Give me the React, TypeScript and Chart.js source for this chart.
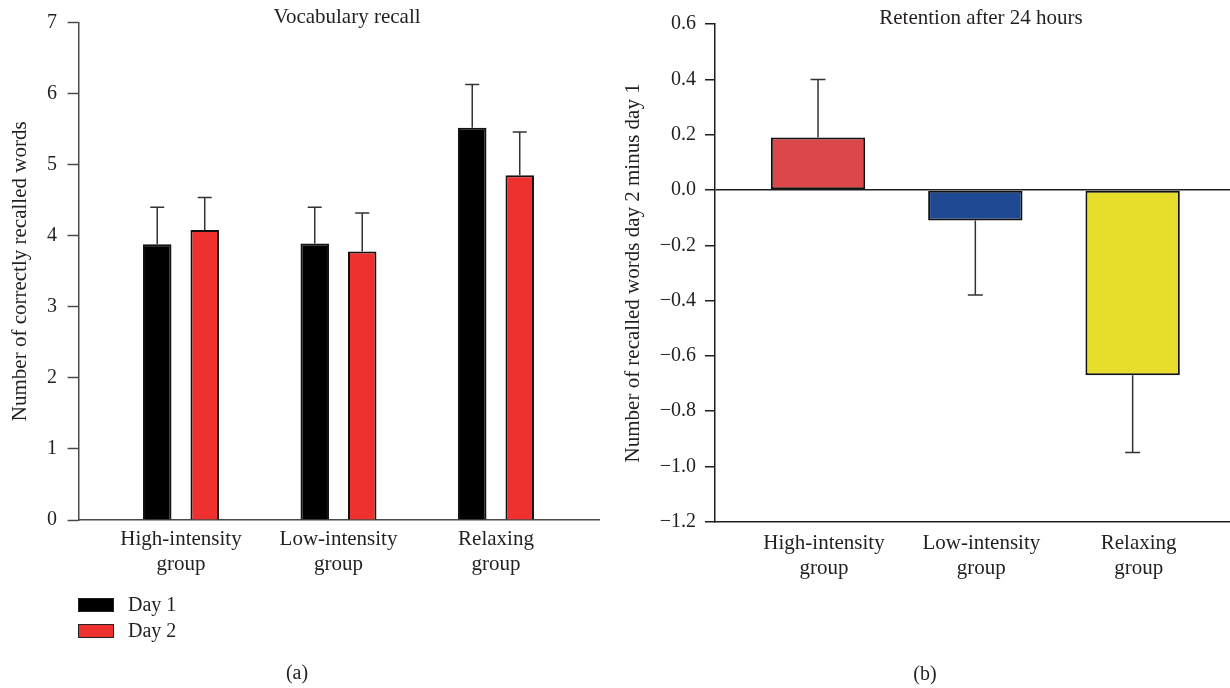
import React, { useEffect, useRef } from 'react';
import { Chart, registerables } from 'chart.js';

Chart.register(...registerables);

// ---------- data ----------
const groupLabels: string[][] = [
  ['High-intensity', 'group'],
  ['Low-intensity', 'group'],
  ['Relaxing', 'group'],
];
const groupPositions = [1, 2, 3];

const day1Values = [3.88, 3.89, 5.52];
const day1Errors = [0.52, 0.51, 0.61];
const day2Values = [4.08, 3.78, 4.85];
const day2Errors = [0.46, 0.54, 0.61];

const retentionValues = [0.19, -0.11, -0.67];
const retentionErrors = [0.21, 0.27, 0.28];

const recallTicks = [0, 1, 2, 3, 4, 5, 6, 7];
const retentionTicks = [-1.2, -1.0, -0.8, -0.6, -0.4, -0.2, 0, 0.2, 0.4, 0.6];

const seriesNames = ['Day 1', 'Day 2'];

// ---------- styles ----------
const FONT = '"Liberation Serif", "Times New Roman", serif';
const TEXT = '#231f20';
const AXIS_L = '#4a4a4a';
const AXIS_R = '#1e1e1e';
const BLACK = '#000000';
const RED_L = '#ee312f';
const RETENTION_COLORS = ['#dc484a', '#1f4a93', '#e6de2a'];

const errorBarPlugin = {
  id: 'errorBars',
  afterDatasetsDraw(chart: any, _args: any, opts: any) {
    const ctx = chart.ctx;
    const yScale = chart.scales.y;
    chart.data.datasets.forEach((ds: any, di: number) => {
      const meta = chart.getDatasetMeta(di);
      const errs: number[] = ds.errors || [];
      meta.data.forEach((bar: any, i: number) => {
        const raw = ds.data[i];
        const v = typeof raw === 'number' ? raw : raw.y;
        const e = errs[i];
        if (e == null) return;
        const end = v >= 0 ? v + e : v - e;
        const x = bar.x;
        const y0 = yScale.getPixelForValue(v);
        const y1 = yScale.getPixelForValue(end);
        ctx.save();
        ctx.strokeStyle = opts.color;
        ctx.lineWidth = opts.width;
        ctx.beginPath();
        ctx.moveTo(x, y0);
        ctx.lineTo(x, y1);
        ctx.moveTo(x - opts.cap / 2, y1);
        ctx.lineTo(x + opts.cap / 2, y1);
        ctx.stroke();
        ctx.restore();
      });
    });
  },
};

const panelTextPlugin = {
  id: 'panelText',
  afterDraw(chart: any, _args: any, opts: any) {
    const ctx = chart.ctx;
    ctx.save();
    ctx.fillStyle = TEXT;
    ctx.textAlign = 'center';
    ctx.textBaseline = 'middle';
    ctx.font = `21px ${FONT}`;
    ctx.fillText(opts.title, opts.titleX, opts.titleY);
    ctx.font = `20px ${FONT}`;
    ctx.fillText(opts.tag, opts.tagX, opts.tagY);
    if (opts.legend) {
      const L = opts.legend;
      chart.data.datasets.forEach((ds: any, i: number) => {
        const top = L.y + i * L.rowGap;
        ctx.fillStyle = ds.backgroundColor;
        ctx.fillRect(L.x, top, L.boxW, L.boxH);
        ctx.strokeStyle = '#222';
        ctx.lineWidth = 1;
        ctx.strokeRect(L.x + 0.5, top + 0.5, L.boxW - 1, L.boxH - 1);
        ctx.fillStyle = TEXT;
        ctx.textAlign = 'left';
        ctx.font = `20px ${FONT}`;
        ctx.fillText(ds.label, L.textX, top + L.boxH / 2 + 0.5);
      });
    }
    ctx.restore();
  },
};

const groupTickCallback = (v: any) => {
  const i = groupPositions.indexOf(Number(v));
  return i >= 0 ? groupLabels[i] : '';
};

function makeRecallChart(canvas: HTMLCanvasElement) {
  return new Chart(canvas, {
    type: 'bar',
    data: {
      datasets: [
        {
          label: seriesNames[0],
          data: groupPositions.map((x, i) => ({ x, y: day1Values[i] })),
          backgroundColor: BLACK,
          borderColor: '#111',
          borderWidth: 2,
          borderSkipped: 'start',
          errors: day1Errors,
        } as any,
        {
          label: seriesNames[1],
          data: groupPositions.map((x, i) => ({ x, y: day2Values[i] })),
          backgroundColor: RED_L,
          borderColor: '#111',
          borderWidth: 2,
          borderSkipped: 'start',
          errors: day2Errors,
        } as any,
      ],
    },
    options: {
      responsive: false,
      animation: false,
      categoryPercentage: 0.603,
      barPercentage: 0.6,
      layout: { padding: { top: 22.5, right: 16, bottom: 0, left: 0 } },
      plugins: {
        legend: { display: false },
        tooltip: { enabled: false },
        errorBars: { color: '#333', width: 1.5, cap: 14 },
        panelText: {
          title: 'Vocabulary recall',
          titleX: 347,
          titleY: 17,
          tag: '(a)',
          tagX: 297,
          tagY: 674,
          legend: { x: 78, y: 598, boxW: 36, boxH: 14, rowGap: 26, textX: 128 },
        },
      } as any,
      scales: {
        x: {
          type: 'linear',
          offset: false,
          min: 0.35,
          max: 3.654,
          afterBuildTicks: (s: any) => {
            s.ticks = groupPositions.map((v) => ({ value: v }));
          },
          afterFit: (s: any) => {
            s.height = 168;
          },
          grid: { display: false, drawTicks: false, offset: false },
          border: { display: true, color: AXIS_L, width: 1.5 },
          ticks: {
            callback: groupTickCallback,
            autoSkip: false,
            maxRotation: 0,
            padding: 6.4,
            color: TEXT,
            font: { family: FONT, size: 21, lineHeight: 1.2 },
          },
        },
        y: {
          min: 0,
          max: 7,
          afterBuildTicks: (s: any) => {
            s.ticks = recallTicks.map((v) => ({ value: v }));
          },
          afterFit: (s: any) => {
            s.width = 78.6;
          },
          grid: {
            drawOnChartArea: false,
            drawTicks: true,
            tickLength: 11,
            color: AXIS_L,
            tickColor: AXIS_L,
            tickWidth: 1.5,
          },
          border: { display: true, color: AXIS_L, width: 1.5 },
          ticks: {
            padding: 10.6,
            color: TEXT,
            font: { family: FONT, size: 20 },
          },
          title: {
            display: true,
            text: 'Number of correctly recalled words',
            color: TEXT,
            font: { family: FONT, size: 21, lineHeight: 1.2 },
            padding: { top: 7.4, bottom: 0 },
          },
        },
      },
    } as any,
    plugins: [errorBarPlugin, panelTextPlugin],
  });
}

const fmtRetention = (v: any) => {
  const n = Number(v);
  if (Math.abs(n) < 1e-9) return '0.0';
  return n.toFixed(1).replace('-', '\u2212');
};

function makeRetentionChart(canvas: HTMLCanvasElement) {
  return new Chart(canvas, {
    type: 'bar',
    data: {
      datasets: [
        {
          label: 'Retention',
          data: groupPositions.map((x, i) => ({ x, y: retentionValues[i] })),
          backgroundColor: RETENTION_COLORS,
          borderColor: '#111',
          borderWidth: 2,
          borderSkipped: false,
          errors: retentionErrors,
        } as any,
      ],
    },
    options: {
      responsive: false,
      animation: false,
      categoryPercentage: 0.6,
      barPercentage: 1,
      layout: { padding: { top: 24.1, right: 0, bottom: 0, left: 0 } },
      plugins: {
        legend: { display: false },
        tooltip: { enabled: false },
        errorBars: { color: '#333', width: 1.5, cap: 15 },
        panelText: {
          title: 'Retention after 24 hours',
          titleX: 366,
          titleY: 18,
          tag: '(b)',
          tagX: 310,
          tagY: 675,
        },
      } as any,
      scales: {
        x: {
          type: 'linear',
          offset: false,
          min: 0.345,
          max: 3.619,
          afterBuildTicks: (s: any) => {
            s.ticks = groupPositions.map((v) => ({ value: v }));
          },
          afterFit: (s: any) => {
            s.height = 166.3;
          },
          grid: { display: false, drawTicks: false, offset: false },
          border: { display: true, color: AXIS_R, width: 1.5 },
          ticks: {
            callback: groupTickCallback,
            autoSkip: false,
            maxRotation: 0,
            padding: 8.7,
            labelOffset: 6,
            color: TEXT,
            font: { family: FONT, size: 21, lineHeight: 1.2 },
          },
        },
        y: {
          min: -1.2,
          max: 0.6,
          afterBuildTicks: (s: any) => {
            s.ticks = retentionTicks.map((v) => ({ value: v }));
          },
          afterFit: (s: any) => {
            s.width = 100;
          },
          grid: {
            drawOnChartArea: true,
            drawTicks: true,
            tickLength: 10,
            color: (c: any) => (c.tick && Math.abs(c.tick.value) < 1e-9 ? AXIS_R : 'rgba(0,0,0,0)'),
            lineWidth: 1.5,
            tickColor: AXIS_R,
            tickWidth: 1.5,
          },
          border: { display: true, color: AXIS_R, width: 1.5 },
          ticks: {
            padding: 9,
            color: TEXT,
            font: { family: FONT, size: 20 },
            callback: fmtRetention,
          },
          title: {
            display: true,
            text: 'Number of recalled words day 2 minus day 1',
            color: TEXT,
            font: { family: FONT, size: 21, lineHeight: 1.2 },
            padding: { top: 6, bottom: 0 },
          },
        },
      },
    } as any,
    plugins: [errorBarPlugin, panelTextPlugin],
  });
}

export default function App() {
  const leftRef = useRef<HTMLCanvasElement | null>(null);
  const rightRef = useRef<HTMLCanvasElement | null>(null);

  useEffect(() => {
    const a = leftRef.current ? makeRecallChart(leftRef.current) : null;
    const b = rightRef.current ? makeRetentionChart(rightRef.current) : null;
    return () => {
      a && a.destroy();
      b && b.destroy();
    };
  }, []);

  return (
    <div
      style={{
        position: 'absolute',
        left: 0,
        top: 0,
        width: 1230,
        height: 688,
        background: '#ffffff',
        overflow: 'hidden',
      }}
    >
      <canvas
        ref={leftRef}
        width={615}
        height={688}
        style={{ position: 'absolute', left: 0, top: 0, width: 615, height: 688 }}
      />
      <canvas
        ref={rightRef}
        width={615}
        height={688}
        style={{ position: 'absolute', left: 615, top: 0, width: 615, height: 688 }}
      />
    </div>
  );
}
